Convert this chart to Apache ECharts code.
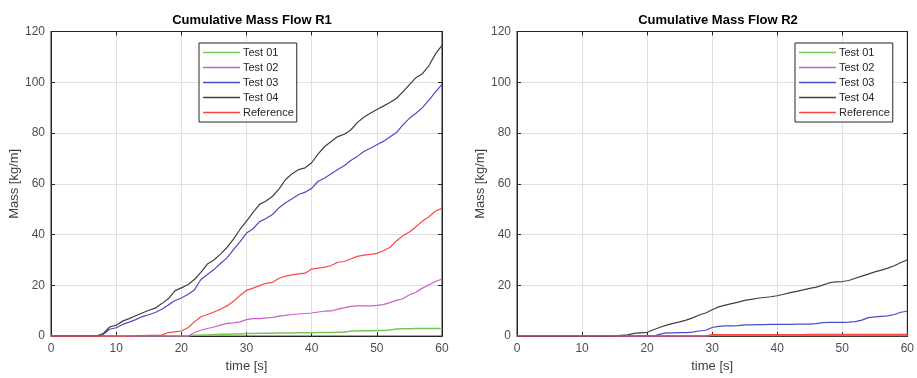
<!DOCTYPE html>
<html>
<head>
<meta charset="utf-8">
<script src="https://cdn.jsdelivr.net/npm/echarts@6/dist/echarts.min.js"></script>
<style>html,body{margin:0;padding:0;background:#fff}#c{width:917px;height:378px}</style>
</head>
<body>
<div id="c"></div>
<script>
var time = [0,1,2,3,4,5,6,7,8,9,10,11,12,13,14,15,16,17,18,19,20,21,22,23,24,25,26,27,28,29,30,31,32,33,34,35,36,37,38,39,40,41,42,43,44,45,46,47,48,49,50,51,52,53,54,55,56,57,58,59,60];
var seriesNames = ['Test 01','Test 02','Test 03','Test 04','Reference'];
var seriesColors = ['#77c84e','#cc5fcc','#4b4bc8','#404040','#ff4545'];
var xTicks = [0,10,20,30,40,50,60];
var yTicks = [0,20,40,60,80,100,120];

// R1
var r1Test01 = [0,0,0,0,0,0,0,0,0,0,0,0,0,0,0,0,0,0,0,0,0,0,0.4,0.5,0.5,0.6,0.7,0.7,0.8,0.8,1.0,1.0,1.1,1.1,1.1,1.2,1.2,1.2,1.3,1.3,1.3,1.4,1.4,1.4,1.5,1.5,2.0,2.0,2.1,2.1,2.2,2.2,2.4,2.8,2.9,2.9,3.0,3.0,3.0,3.0,3.0];
var r1Test02 = [0,0,0,0,0,0,0,0,0,0,0,0,0,0,0,0,0,0,0,0,0,0,1.3,2.3,3.0,3.6,4.3,5.0,5.2,5.6,6.5,6.9,6.9,7.2,7.4,7.9,8.2,8.5,8.7,8.9,9.1,9.5,9.8,9.9,10.6,11.1,11.7,11.9,11.9,11.9,12.1,12.4,13.2,14.1,14.7,16.3,17.3,18.9,20.2,21.5,22.5];
var r1Test03 = [0,0,0,0,0,0,0,0,0.6,2.7,3.3,4.6,5.5,6.5,7.7,8.4,9.3,10.6,12.3,13.9,15.0,16.4,18.2,22.3,24.3,26.2,28.6,30.8,34.1,37.1,40.6,42.3,45.1,46.3,47.9,50.6,52.5,54.1,55.8,56.7,58.2,61.0,62.3,64.0,65.6,67.1,69.2,70.8,72.7,74.0,75.4,76.7,78.4,80.2,83.2,85.8,87.8,90.0,93.0,96.2,99.2];
var r1Test04 = [0,0,0,0,0,0,0,0,1.0,3.6,4.3,5.9,6.9,8.0,9.1,10.2,11.0,12.8,14.7,17.8,19.0,20.2,22.3,25.1,28.4,30.0,32.3,34.9,38.2,42.0,45.3,48.7,51.9,53.2,55.1,58.0,61.7,64.0,65.6,66.3,68.3,71.8,74.7,76.7,78.6,79.5,81.2,84.1,86.2,87.8,89.3,90.6,92.0,93.6,96.2,99.1,101.8,103.4,106.6,111.2,114.5];
var r1Reference = [0,0,0,0,0,0,0,0,0,0,0,0,0,0.2,0.2,0.3,0.3,0.4,1.4,1.7,2.0,3.3,5.6,7.6,8.5,9.5,10.6,11.9,13.7,16.0,18.0,18.9,19.9,20.8,21.2,22.8,23.6,24.1,24.5,24.8,26.4,26.8,27.2,27.8,29.1,29.4,30.4,31.4,31.9,32.2,32.6,33.6,34.9,37.5,39.5,41.0,43.1,45.3,47.0,49.3,50.3];

// R2
var r2Test01 = [0,0,0,0,0,0,0,0,0,0,0,0,0,0,0,0,0,0,0,0,0,0,0.2,0.2,0.2,0.2,0.2,0.2,0.2,0.2,0.2,0.2,0.2,0.2,0.2,0.2,0.2,0.2,0.2,0.2,0.2,0.2,0.2,0.2,0.2,0.2,0.2,0.2,0.2,0.2,0.2,0.2,0.2,0.2,0.2,0.2,0.2,0.2,0.2,0.2,0.2];
var r2Test02 = [0,0,0,0,0,0,0,0,0,0,0,0,0,0,0,0,0,0,0,0,0,0,0,0,0,0,0,0,0,0,0.3,0.3,0.3,0.3,0.3,0.3,0.3,0.3,0.3,0.3,0.3,0.3,0.3,0.3,0.3,0.3,0.3,0.3,0.3,0.3,0.3,0.3,0.3,0.3,0.3,0.3,0.3,0.3,0.3,0.3,0.3];
var r2Test03 = [0,0,0,0,0,0,0,0,0,0,0,0,0,0,0,0,0,0,0,0,0,0,0.8,1.3,1.3,1.4,1.4,1.6,2.0,2.3,3.4,3.8,4.0,4.0,4.1,4.4,4.4,4.5,4.5,4.6,4.6,4.6,4.6,4.7,4.7,4.7,4.9,5.3,5.4,5.4,5.4,5.5,5.7,6.3,7.3,7.6,7.8,8.0,8.5,9.4,9.8];
var r2Test04 = [0,0,0,0,0,0,0,0,0,0,0,0,0,0,0,0.1,0.3,0.5,1.1,1.3,1.5,2.5,3.5,4.3,5.0,5.6,6.3,7.2,8.3,9.1,10.4,11.5,12.2,12.8,13.4,14.1,14.5,14.9,15.2,15.5,15.9,16.5,17.1,17.6,18.2,18.8,19.3,20.1,21.0,21.4,21.5,21.9,22.8,23.6,24.4,25.3,26.0,26.8,27.7,29.0,30.0];
var r2Reference = [0.1,0.1,0.1,0.1,0.1,0.1,0.1,0.1,0.1,0.1,0.1,0.1,0.1,0.1,0.1,0.1,0.1,0.1,0.1,0.1,0.1,0.1,0.1,0.1,0.1,0.1,0.1,0.1,0.1,0.1,0.6,0.6,0.6,0.6,0.6,0.6,0.6,0.6,0.6,0.6,0.6,0.6,0.6,0.6,0.6,0.7,0.7,0.7,0.7,0.7,0.7,0.7,0.7,0.7,0.7,0.7,0.7,0.7,0.7,0.7,0.7];

var r1Data = [r1Test01, r1Test02, r1Test03, r1Test04, r1Reference];
var r2Data = [r2Test01, r2Test02, r2Test03, r2Test04, r2Reference];

var FONT = 'Liberation Sans, Arial, Helvetica, sans-serif';
var AX = '#262626';

function pairs(vals) { return time.map(function (t, i) { return [t, vals[i]]; }); }

function makeAxesX(gi) {
  return [{
    type: 'value', gridIndex: gi, min: 0, max: 60, interval: 10, position: 'bottom',
    name: 'time [s]', nameLocation: 'middle', nameGap: 23,
    nameTextStyle: { color: '#404040', fontSize: 13, fontFamily: FONT },
    axisLine: { show: true, onZero: false, lineStyle: { color: AX, width: 1 } },
    axisTick: { show: true, inside: true, length: 4, lineStyle: { color: AX } },
    axisLabel: { color: '#4d4d4d', fontSize: 12, fontFamily: FONT, margin: 7 },
    splitLine: { show: true, lineStyle: { color: '#e0e0e0', width: 1 } }
  }, {
    type: 'value', gridIndex: gi, min: 0, max: 60, interval: 10, position: 'top',
    axisLine: { show: true, onZero: false, lineStyle: { color: AX, width: 1 } },
    axisTick: { show: true, inside: true, length: 4, lineStyle: { color: AX } },
    axisLabel: { show: false }, splitLine: { show: false }
  }];
}
function makeAxesY(gi) {
  return [{
    type: 'value', gridIndex: gi, min: 0, max: 120, interval: 20, position: 'left',
    name: 'Mass [kg/m]', nameLocation: 'middle', nameGap: 29,
    nameTextStyle: { color: '#404040', fontSize: 13, fontFamily: FONT },
    axisLine: { show: true, onZero: false, lineStyle: { color: AX, width: 1 } },
    axisTick: { show: true, inside: true, length: 4, lineStyle: { color: AX } },
    axisLabel: { color: '#4d4d4d', fontSize: 12, fontFamily: FONT, margin: 6 },
    splitLine: { show: true, lineStyle: { color: '#e0e0e0', width: 1 } }
  }, {
    type: 'value', gridIndex: gi, min: 0, max: 120, interval: 20, position: 'right',
    axisLine: { show: true, onZero: false, lineStyle: { color: AX, width: 1 } },
    axisTick: { show: true, inside: true, length: 4, lineStyle: { color: AX } },
    axisLabel: { show: false }, splitLine: { show: false }
  }];
}

var series = [];
[r1Data, r2Data].forEach(function (dataset, gi) {
  dataset.forEach(function (vals, si) {
    series.push({
      type: 'line', name: seriesNames[si], xAxisIndex: gi * 2, yAxisIndex: gi * 2,
      data: pairs(vals), symbol: 'none', showSymbol: false, animation: false,
      lineStyle: { color: seriesColors[si], width: si === 0 ? 1.4 : 1.2 },
      itemStyle: { color: seriesColors[si] }, z: 2 + si
    });
  });
});

function legendAt(left) {
  return {
    left: left, top: 43, orient: 'vertical', data: seriesNames,
    icon: 'rect', itemWidth: 37, itemHeight: 1.5, itemGap: 2,
    padding: [3, 3, 3, 4], backgroundColor: '#fff',
    borderColor: AX, borderWidth: 1, selectedMode: false,
    textStyle: { color: '#262626', fontSize: 11, fontFamily: FONT, lineHeight: 13, padding: [0, 0, 0, -2] }
  };
}

var chart = echarts.init(document.getElementById('c'), null, { renderer: 'canvas' });
chart.setOption({
  backgroundColor: '#fff',
  animation: false,
  title: [
    { text: 'Cumulative Mass Flow R1', left: 247, top: 9, textAlign: 'center', textStyle: { fontSize: 13, fontWeight: 'bold', color: '#000', fontFamily: FONT } },
    { text: 'Cumulative Mass Flow R2', left: 713, top: 9, textAlign: 'center', textStyle: { fontSize: 13, fontWeight: 'bold', color: '#000', fontFamily: FONT } }
  ],
  grid: [
    { left: 51, top: 31.5, width: 391, height: 306, show: true, borderColor: AX, borderWidth: 1, backgroundColor: '#fff' },
    { left: 517, top: 31.5, width: 391, height: 306, show: true, borderColor: AX, borderWidth: 1, backgroundColor: '#fff' }
  ],
  xAxis: makeAxesX(0).concat(makeAxesX(1)),
  yAxis: makeAxesY(0).concat(makeAxesY(1)),
  legend: [legendAt(199), legendAt(795)],
  series: series
});
</script>
</body>
</html>
